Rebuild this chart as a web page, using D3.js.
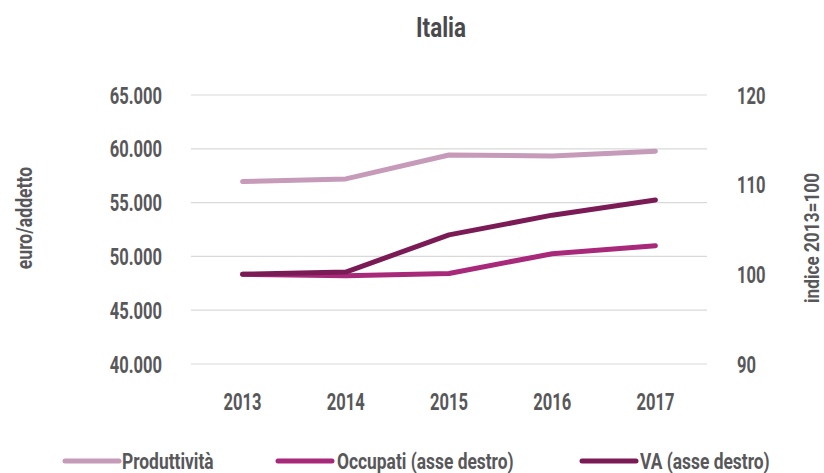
<!DOCTYPE html>
<html><head><meta charset="utf-8">
<script src="https://cdn.jsdelivr.net/npm/d3@7"></script>
<style>
body{margin:0;background:#fff;}
svg text{font-family:Roboto,"DejaVu Sans",sans-serif;font-weight:700;fill:#58585a;}
</style></head>
<body><svg id="c" width="824" height="473"></svg>
<script>
const years = ["2013","2014","2015","2016","2017"];
const produttivita = [56950, 57200, 59420, 59330, 59770];
const occupati = [100.0, 99.85, 100.1, 102.3, 103.2];
const va = [100.0, 100.25, 104.4, 106.6, 108.3];
const leftTicks = [40000, 45000, 50000, 55000, 60000, 65000];
const rightTicks = [90, 100, 110, 120];
const seriesNames = ["Produttività", "Occupati (asse destro)", "VA (asse destro)"];
const colors = ["#c69ab9", "#a8287a", "#7b1b56"];

const svg = d3.select("#c");
const pL = 191, pR = 707, pT = 95, pB = 364;
const x = d3.scaleBand().domain(years).range([pL, pR]);
const yL = d3.scaleLinear().domain([40000, 65000]).range([pB, pT]);
const yR = d3.scaleLinear().domain([90, 120]).range([pB, pT]);
const fmtL = v => { const s = String(v); return s.slice(0, s.length-3) + "." + s.slice(-3); };
const K = 0.72;
function condense(sel, k) {
  sel.each(function() {
    const w = this.getComputedTextLength();
    this.setAttribute("textLength", w * k);
    this.setAttribute("lengthAdjust", "spacingAndGlyphs");
  });
}

// title
const title = svg.append("text").attr("x", 441).attr("y", 37).attr("text-anchor", "middle")
  .style("font-size", "28px").style("fill", "#4a4a4c").text("Italia");
condense(title, 0.8);

// gridlines
svg.append("g").selectAll("line").data(leftTicks).join("line")
  .attr("x1", pL).attr("x2", pR)
  .attr("y1", d => yL(d)).attr("y2", d => yL(d))
  .attr("stroke", "#d9d9d9").attr("stroke-width", 1.2);

function styleAxis(g) {
  g.select(".domain").remove();
  g.attr("font-family", null).attr("font-size", null);
  g.selectAll("text").style("font-size", "23px").attr("dy", "0.35em").attr("fill", null);
  condense(g.selectAll("text"), K);
}

// left axis
svg.append("g").attr("transform", `translate(${pL},0)`)
  .call(d3.axisLeft(yL).tickValues(leftTicks).tickFormat(fmtL).tickSize(0).tickPadding(29))
  .call(styleAxis);

// right axis
svg.append("g").attr("transform", `translate(${pR},0)`)
  .call(d3.axisRight(yR).tickValues(rightTicks).tickSize(0).tickPadding(30))
  .call(styleAxis);

// x axis
svg.append("g").attr("transform", `translate(0,${pB})`)
  .call(d3.axisBottom(x).tickSize(0).tickPadding(38))
  .call(styleAxis);

// axis titles
const t1 = svg.append("text").attr("transform", "translate(32,218) rotate(-90)").attr("text-anchor", "middle")
  .style("font-size", "22px").text("euro/addetto");
const t2 = svg.append("text").attr("transform", "translate(819,238) rotate(-90)").attr("text-anchor", "middle")
  .style("font-size", "21px").text("indice 2013=100");
condense(t1, 0.8); condense(t2, 0.82);

// lines
const cx = d => x(d) + x.bandwidth() / 2;
const lineL = d3.line().x((d, i) => cx(years[i])).y(d => yL(d));
const lineR = d3.line().x((d, i) => cx(years[i])).y(d => yR(d));
[[produttivita, lineL], [occupati, lineR], [va, lineR]].forEach(([data, gen], i) => {
  svg.append("path").datum(data).attr("d", gen).attr("fill", "none")
    .attr("stroke", colors[i]).attr("stroke-width", 5)
    .attr("stroke-linecap", "round").attr("stroke-linejoin", "round");
});

// legend
const swX = [65, 278, 582];
const txX = [122, 337, 640];
const lg = svg.append("g").selectAll("g").data(seriesNames).join("g");
lg.append("line").attr("x1", (d, i) => swX[i]).attr("x2", (d, i) => swX[i] + 54)
  .attr("y1", 461).attr("y2", 461)
  .attr("stroke", (d, i) => colors[i]).attr("stroke-width", 5).attr("stroke-linecap", "round");
const lt = lg.append("text").attr("x", (d, i) => txX[i]).attr("y", 461).attr("dy", "0.35em")
  .style("font-size", "22px").text(d => d);
condense(lt, 0.79);
</script></body></html>
